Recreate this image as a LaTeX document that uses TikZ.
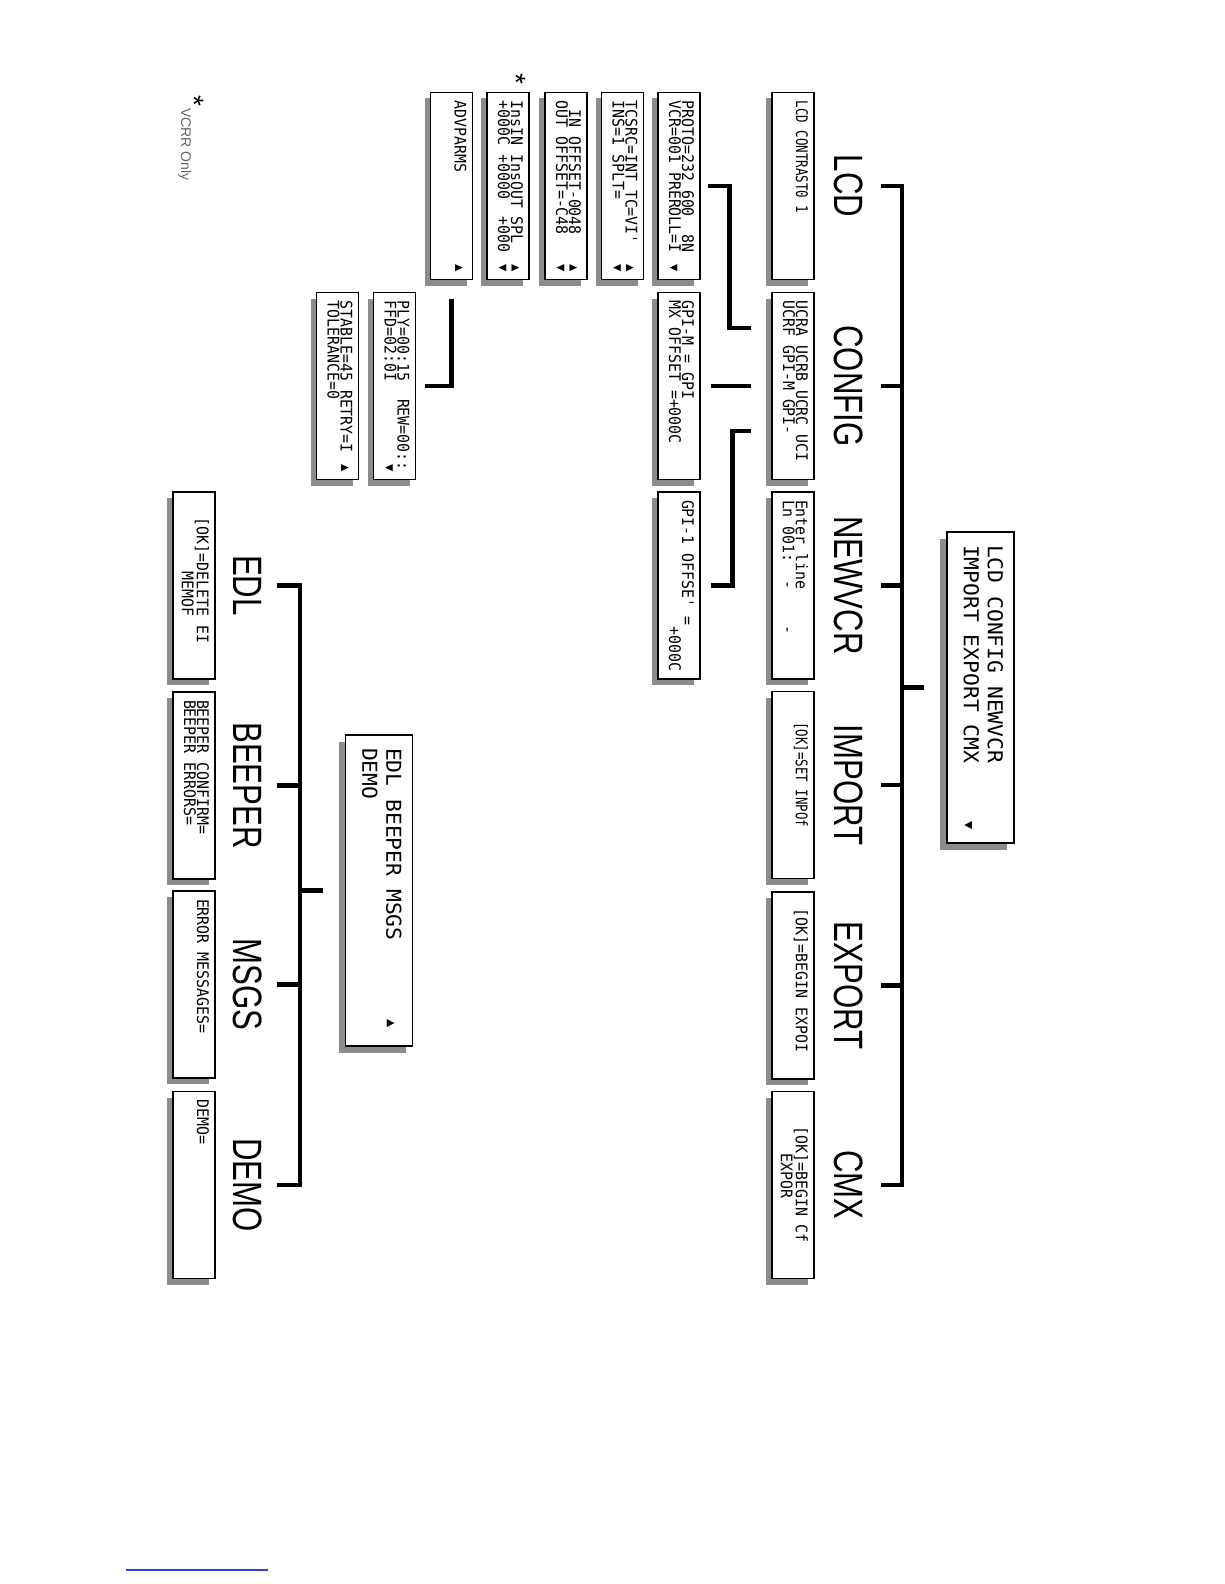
\documentclass[tikz,border=0pt]{standalone}
\usepackage{fontspec}
\setmainfont{Liberation Sans}
\newfontfamily\lcdfont[FakeStretch=0.93]{DejaVu Sans Mono}
\newfontfamily\lcdnarrowfont[FakeStretch=0.78]{DejaVu Sans Mono}
\newfontfamily\lcdwidefont[FakeStretch=1.04]{DejaVu Sans Mono}
\newfontfamily\menufont[FakeStretch=0.76]{Liberation Sans}
\usetikzlibrary{calc}
\definecolor{shadowgray}{RGB}{140,140,140}
\definecolor{linkblue}{RGB}{40,70,220}
\newcommand{\screenfont}{\lcdfont\fontsize{16}{13}\selectfont}
\newcommand{\narrowscreen}{\lcdnarrowfont\fontsize{16}{13}\selectfont}
\newcommand{\mainscreenfont}{\lcdwidefont\fontsize{20.5}{24}\selectfont}
\newcommand{\menulabelfont}{\menufont\fontsize{41}{41}\selectfont}
\newcommand{\scrollup}{\raisebox{1pt}{\fontsize{13}{13}\selectfont ▲}}
\newcommand{\scrolldown}{\raisebox{1pt}{\fontsize{13}{13}\selectfont ▼}}
\tikzset{
  shadowed/.style={preaction={fill=shadowgray, draw=none, transform canvas={xshift=-#1, yshift=-#1}}},
  screen/.style={draw, fill=white, line width=1.6pt, inner xsep=8pt, inner ysep=6pt, shadowed=6pt,
    execute at begin node={\begin{minipage}[c][30pt][t]{171pt}\screenfont},
    execute at end node={\end{minipage}}},
  mainscreen/.style={draw, fill=white, line width=1.6pt, inner xsep=13pt, inner ysep=11pt, shadowed=7pt,
    execute at begin node={\begin{minipage}[c][45pt][t]{285pt}\mainscreenfont},
    execute at end node={\end{minipage}}},
  menulabel/.style={font=\menulabelfont, inner sep=0pt},
  branch/.style={line width=4.6pt},
}
\begin{document}
\begin{tikzpicture}[x=1pt, y=1pt]
\useasboundingbox (0,0) rectangle (1224,-1584);
\begin{scope}[rotate=-90, transform shape]
  % main menu, page 1
  \node[mainscreen] (root1) at (687.5,980.5) {LCD CONFIG NEWVCR\\IMPORT EXPORT CMX\hfill\scrolldown\hspace*{6pt}};
  \node[menulabel] (lcdlbl) at (186,849) {LCD};
  \node[menulabel] (configlbl) at (386,849) {CONFIG};
  \node[menulabel] (newvcrlbl) at (585.5,849) {NEWVCR};
  \node[menulabel] (importlbl) at (785,849) {IMPORT};
  \node[menulabel] (exportlbl) at (985.5,849) {EXPORT};
  \node[menulabel] (cmxlbl) at (1185,849) {CMX};
  \node[screen] (lcd) at (186,793) {\narrowscreen LCD CONTRAST0 1};
  \node[screen] (config) at (386,793) {UCRA UCRB UCRC UCI\\UCRF GPI-M GPI-};
  \node[screen] (newvcr) at (585.5,793) {Enter line\\Ln 001:~~-~~~~-};
  \node[screen] (import) at (785,793) {\narrowscreen ~~~[OK]=SET INPOf};
  \node[screen] (export) at (985.5,793) {~[OK]=BEGIN EXPOI};
  \node[screen] (cmx) at (1185,793) {~~~[OK]=BEGIN Cf\\\mbox{}~~~~~~EXPOR};
  \coordinate (hub1) at (687.5,902);
  \draw[branch, shorten <=22pt] (root1.south) -- (hub1);
  \draw[branch, shorten <=17pt, shorten >=17pt] (lcdlbl.north) |- (hub1) -| (cmxlbl.north);
  \foreach \n in {config,newvcr,import,export}
    \draw[branch, shorten <=17pt] (\n lbl.north) -- (\n lbl |- hub1);
  % config screens
  \node[screen] (proto) at (186,679) {PROTO=232 600~~8N\\VCR=001 PREROLL=I\hfill\scrolldown};
  \node[screen] (gpim) at (386,679) {GPI-M = GPI\\MX OFFSET =+000C};
  \node[screen] (gpi1) at (585.5,679) {GPI-1 OFFSE' =\\\mbox{}~~~~~~~~~~~~~~~+000C};
  \node[screen] (tcsrc) at (186,622.5) {TCSRC=INT TC=VI'\hfill\scrollup\\INS=1 SPLT=\hfill\scrolldown};
  \node[screen] (inoffset) at (186,566) {~IN OFFSET-0048\hfill\scrollup\\OUT OFFSET=-C48\hfill\scrolldown};
  \node[screen] (insin) at (186,508) {InsIN InsOUT SPL\hfill\scrollup\\+000C~+0000~~+000\hfill\scrolldown};
  \node[screen] (advparms) at (186,451.5) {ADVPARMS\hfill\scrollup};
  \node[screen] (ply) at (386,394.5) {PLY=00:15~~REW=00::\\FFD=02:0I\hfill\scrolldown};
  \node[screen] (stable) at (386,337.5) {STABLE=45 RETRY=I\hfill\scrollup\\TOLERANCE=0};
  \draw[branch] ($(config.south)+(-58,-20)$) -- ++(0,-22) -| ($(proto.north)+(0,7)$);
  \draw[branch] ($(config.south)+(0,-20)$) -- ($(gpim.north)+(0,10)$);
  \draw[branch] ($(config.south)+(45,-20)$) -- ++(0,-19) -| ($(gpi1.north)+(0,10)$);
  \draw[branch] ($(advparms.east)+(19,0)$) -| ($(ply.north)+(0,9)$);
  \node[font=\fontsize{28}{28}\selectfont, inner sep=0pt] (star1) at (79,516) {*};
  % main menu, page 2
  \node[mainscreen] (root2) at (890.5,379) {EDL BEEPER MSGS\hfill\scrollup\hspace*{5pt}\\DEMO};
  \node[menulabel] (edllbl) at (585.5,247.5) {EDL};
  \node[menulabel] (beeperlbl) at (785.5,247.5) {BEEPER};
  \node[menulabel] (msgslbl) at (984.5,247.5) {MSGS};
  \node[menulabel] (demolbl) at (1185,247.5) {DEMO};
  \node[screen] (edl) at (585.5,194) {~~[OK]=DELETE EI\\\mbox{}~~~~~~~~MEMOF};
  \node[screen] (beeper) at (785.5,194) {BEEPER CONFIRM=\\BEEPER ERRORS=};
  \node[screen] (msgs) at (984.5,194) {ERROR MESSAGES=};
  \node[screen] (demo) at (1185,194) {DEMO=};
  \coordinate (hub2) at (890.5,300);
  \draw[branch, shorten <=22pt] (root2.south) -- (hub2);
  \draw[branch, shorten <=15pt, shorten >=15pt] (edllbl.north) |- (hub2) -| (demolbl.north);
  \foreach \n in {beeper,msgs}
    \draw[branch, shorten <=15pt] (\n lbl.north) -- (\n lbl |- hub2);
  % footnote
  \node[font=\fontsize{28}{28}\selectfont, inner sep=0pt] (star2) at (101,194) {*};
  \node[font=\fontsize{14}{14}\selectfont, text=black!60, anchor=base west, inner sep=0pt] (vcrrnote) at (108,181) {VCRR Only};
\end{scope}
\draw[linkblue, line width=1.2pt] (126,-1570) -- (268,-1570);
\end{tikzpicture}
\end{document}
